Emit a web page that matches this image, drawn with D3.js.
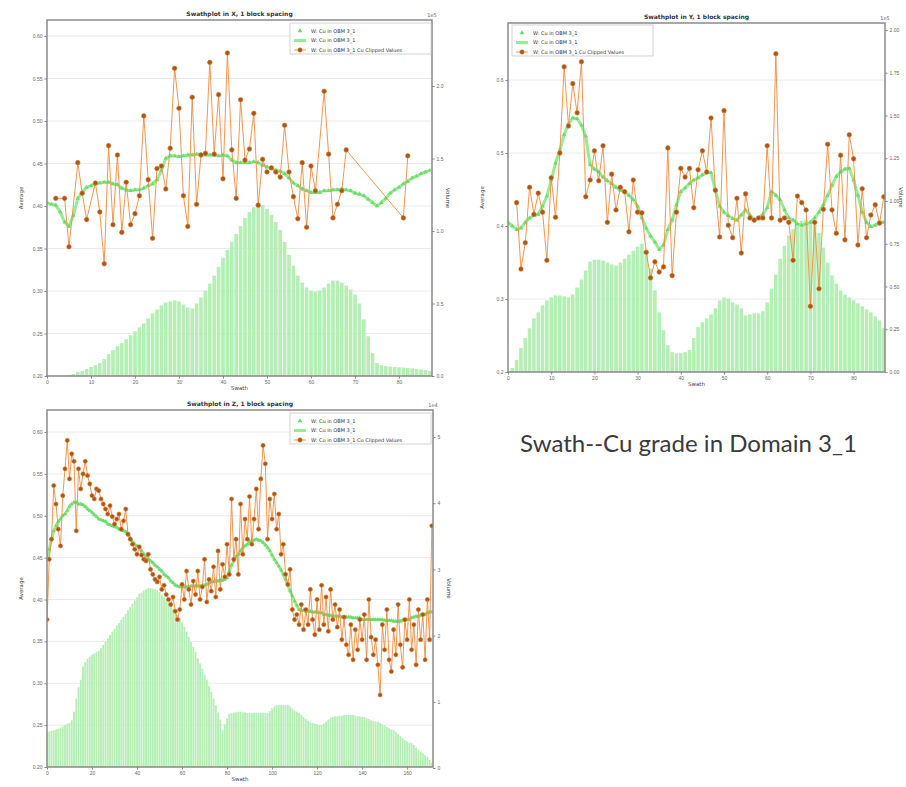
<!DOCTYPE html>
<html>
<head>
<meta charset="utf-8">
<script src="https://cdn.jsdelivr.net/npm/d3@7"></script>
<style>
  body { margin: 0; background: #fff; }
  svg { font-family: "DejaVu Sans", sans-serif; }
  .tick text { fill: #666; font-size: 5px; }
  .tick line { stroke: #888; }
  .domain { stroke: none; }
</style>
</head>
<body>
<svg id="chart" width="906" height="787"></svg>
<script>
// ---- Swath in X (top left) ----
const xGreen = [0.404,0.402,0.401,0.393,0.381,0.376,0.389,0.409,0.416,0.422,
  0.424,0.426,0.427,0.428,0.428,0.426,0.425,0.421,0.419,0.418,
  0.419,0.419,0.421,0.424,0.426,0.431,0.442,0.456,0.459,0.459,
  0.458,0.459,0.460,0.460,0.461,0.461,0.460,0.460,0.460,0.459,
  0.460,0.459,0.454,0.451,0.451,0.451,0.451,0.452,0.451,0.448,
  0.446,0.444,0.442,0.441,0.438,0.433,0.427,0.424,0.420,0.418,
  0.416,0.416,0.416,0.418,0.418,0.419,0.419,0.420,0.419,0.418,
  0.415,0.414,0.412,0.408,0.404,0.400,0.404,0.409,0.415,0.419,
  0.422,0.426,0.429,0.433,0.435,0.438,0.440,0.442];
const xClipped = [null,null,0.409,null,0.409,0.352,null,0.451,0.415,0.384,
  null,0.427,0.393,0.332,0.471,0.378,0.460,0.369,0.428,0.378,
  0.391,0.412,0.506,0.431,0.362,0.444,0.447,0.420,0.468,0.562,
  0.515,0.412,0.376,0.528,0.402,0.460,0.462,0.569,0.461,0.531,
  0.432,0.580,0.466,0.409,0.525,0.454,0.467,0.509,0.401,0.455,
  0.440,0.445,0.440,0.434,0.495,0.440,0.411,0.385,0.451,0.375,
  0.447,0.418,null,0.535,0.461,0.386,0.402,0.418,0.466,null,
  null,null,null,null,null,null,null,null,null,null,
  null,0.386,0.459,null,null,null,null,null];
const xVolume = [0,0,0,0,0.003,0.007,0.014,0.027,0.035,0.048,
  0.062,0.075,0.089,0.116,0.151,0.178,0.205,0.226,0.253,0.281,
  0.308,0.336,0.363,0.397,0.432,0.459,0.486,0.507,0.514,0.521,
  0.514,0.493,0.473,0.466,0.500,0.541,0.589,0.637,0.692,0.753,
  0.815,0.870,0.925,0.979,1.034,1.089,1.130,1.164,1.192,1.178,
  1.151,1.110,1.062,1.007,0.925,0.836,0.760,0.692,0.644,0.610,
  0.589,0.582,0.589,0.610,0.637,0.658,0.658,0.644,0.623,0.596,
  0.562,0.500,0.390,0.274,0.158,0.089,0.075,0.068,0.065,0.062,
  0.060,0.058,0.055,0.052,0.048,0.045,0.040,0.035];

// ---- Swath in Y (top right) ----
const yGreen = [0.405,0.400,0.395,0.397,0.405,0.411,0.414,0.416,0.427,0.441,
  0.463,0.486,0.504,0.525,0.540,0.548,0.547,0.538,0.523,0.484,
  0.478,0.474,0.467,0.462,0.458,0.453,0.449,0.447,0.442,0.436,
  0.427,0.411,0.397,0.386,0.378,0.368,0.374,0.395,0.408,0.429,
  0.447,0.452,0.458,0.463,0.466,0.470,0.473,0.473,0.449,0.427,
  0.419,0.414,0.410,0.408,0.415,0.422,0.415,0.408,0.411,0.416,
  0.425,0.447,0.442,0.436,0.422,0.411,0.408,0.403,0.401,0.403,
  0.405,0.411,0.419,0.429,0.442,0.456,0.468,0.474,0.478,0.479,
  0.463,0.442,0.419,0.405,0.399,0.401,0.405,0.405];
const yClipped = [null,null,0.432,0.341,0.377,0.453,0.416,0.445,0.419,0.353,
  0.466,0.412,0.500,0.618,0.537,0.595,0.555,0.625,0.440,0.463,
  0.503,0.462,0.510,0.405,0.471,0.422,0.453,0.447,0.392,0.463,
  0.419,0.418,0.364,0.329,0.351,0.337,0.344,0.507,0.332,0.419,
  0.479,0.467,0.479,0.425,0.477,0.503,0.474,0.548,0.449,0.385,
  0.558,0.401,0.384,0.438,0.363,0.444,0.411,0.408,0.411,0.411,
  0.510,0.411,0.636,0.408,0.411,0.405,0.353,0.441,0.432,0.422,
  0.290,0.405,0.314,0.423,0.512,0.422,0.390,0.497,0.381,0.525,
  0.492,0.374,0.451,0.384,0.415,0.429,0.404,0.440];
const yVolume = [0,0.023,0.070,0.140,0.198,0.256,0.314,0.349,0.390,0.419,
  0.436,0.448,0.448,0.442,0.436,0.453,0.494,0.541,0.593,0.645,
  0.657,0.657,0.651,0.640,0.628,0.622,0.640,0.663,0.686,0.709,
  0.733,0.750,0.709,0.605,0.477,0.349,0.244,0.157,0.116,0.110,
  0.110,0.116,0.128,0.198,0.262,0.291,0.314,0.337,0.372,0.419,
  0.436,0.430,0.407,0.395,0.372,0.331,0.337,0.343,0.343,0.355,
  0.407,0.488,0.570,0.663,0.738,0.797,0.837,0.872,0.884,0.890,
  0.878,0.860,0.814,0.727,0.640,0.564,0.517,0.477,0.453,0.436,
  0.419,0.401,0.384,0.366,0.349,0.326,0.302,0.256];

// ---- Swath in Z (bottom left) ----
const zGreen = [0.448,0.460,0.472,0.482,0.488,0.493,0.496,0.500,0.502,0.506,
  0.511,0.514,0.516,0.516,0.514,0.514,0.513,0.511,0.508,0.506,
  0.504,0.501,0.499,0.496,0.495,0.494,0.493,0.490,0.489,0.488,
  0.487,0.486,0.484,0.483,0.482,0.481,0.477,0.474,0.469,0.466,
  0.464,0.462,0.458,0.454,0.452,0.448,0.446,0.444,0.441,0.439,
  0.436,0.434,0.430,0.428,0.426,0.422,0.420,0.417,0.416,0.415,
  0.415,0.415,0.415,0.415,0.416,0.416,0.416,0.416,0.416,0.417,
  0.417,0.418,0.420,0.421,0.421,0.422,0.422,0.423,0.423,0.424,
  0.426,0.434,0.441,0.446,0.451,0.454,0.458,0.462,0.464,0.466,
  0.469,0.470,0.471,0.472,0.471,0.470,0.468,0.465,0.462,0.458,
  0.453,0.448,0.444,0.440,0.435,0.430,0.424,0.417,0.410,0.404,
  0.398,0.393,0.388,0.387,0.387,0.386,0.386,0.386,0.385,0.385,
  0.385,0.384,0.384,0.382,0.382,0.381,0.381,0.380,0.380,0.380,
  0.380,0.379,0.379,0.379,0.379,0.379,0.378,0.378,0.378,0.378,
  0.376,0.376,0.376,0.376,0.376,0.376,0.376,0.376,0.376,0.376,
  0.375,0.375,0.375,0.375,0.374,0.374,0.374,0.374,0.375,0.375,
  0.376,0.376,0.378,0.379,0.380,0.380,0.381,0.382,0.382,0.384,
  0.385,0.385];
const zClipped = [0.376,0.448,0.472,0.536,0.514,0.484,0.464,0.524,0.556,0.590,
  0.544,0.574,0.565,0.482,0.556,0.532,0.550,0.565,0.548,0.538,
  0.524,0.520,0.532,0.530,0.520,0.514,0.508,0.502,0.512,0.499,
  0.490,0.496,0.502,0.484,0.494,0.508,0.478,0.472,0.466,0.460,
  0.454,0.463,0.453,0.448,0.446,0.454,0.436,0.430,0.424,0.421,
  0.427,0.412,0.417,0.406,0.400,0.394,0.403,0.386,0.376,0.388,
  0.418,0.400,0.434,0.412,0.394,0.422,0.406,0.434,0.400,0.415,
  0.448,0.397,0.424,0.410,0.439,0.403,0.458,0.412,0.442,0.427,
  0.466,0.430,0.520,0.448,0.472,0.430,0.514,0.454,0.496,0.472,
  0.523,0.466,0.496,0.532,0.484,0.544,0.584,0.562,0.472,0.520,
  0.496,0.526,0.484,0.502,0.454,0.466,0.430,0.418,0.436,0.388,
  0.376,0.382,0.370,0.394,0.364,0.388,0.370,0.412,0.376,0.358,
  0.400,0.364,0.417,0.370,0.403,0.362,0.412,0.376,0.394,0.367,
  0.388,0.352,0.379,0.346,0.334,0.370,0.328,0.364,0.340,0.376,
  0.352,0.382,0.328,0.400,0.355,0.334,0.352,0.322,0.286,0.370,
  0.340,0.388,0.328,0.314,0.364,0.334,0.394,0.346,0.319,0.376,
  0.352,0.400,0.340,0.370,0.322,0.388,0.352,0.382,0.328,0.400,
  0.352,0.488];
const zVolume = [0.544,0.55,0.56,0.57,0.58,0.59,0.61,0.63,0.65,0.67,
  0.68,0.72,0.85,1.05,1.22,1.33,1.53,1.60,1.65,1.68,
  1.71,1.73,1.75,1.77,1.81,1.86,1.91,1.96,2.01,2.06,
  2.10,2.15,2.19,2.24,2.28,2.33,2.38,2.43,2.48,2.53,
  2.58,2.63,2.65,2.68,2.70,2.72,2.72,2.71,2.70,2.69,
  2.66,2.62,2.58,2.54,2.50,2.45,2.41,2.36,2.31,2.27,
  2.20,2.13,2.06,1.98,1.90,1.83,1.75,1.66,1.58,1.50,
  1.41,1.33,1.24,1.15,1.05,0.95,0.84,0.73,0.57,0.66,
  0.75,0.82,0.83,0.84,0.84,0.85,0.85,0.84,0.84,0.83,
  0.83,0.83,0.83,0.83,0.83,0.83,0.83,0.83,0.83,0.86,
  0.90,0.93,0.95,0.95,0.95,0.95,0.95,0.95,0.93,0.90,
  0.87,0.85,0.83,0.80,0.77,0.74,0.71,0.69,0.68,0.67,
  0.66,0.65,0.65,0.67,0.70,0.73,0.76,0.77,0.78,0.78,
  0.79,0.79,0.80,0.80,0.80,0.80,0.80,0.79,0.78,0.78,
  0.77,0.77,0.75,0.74,0.72,0.71,0.70,0.70,0.68,0.66,
  0.64,0.62,0.60,0.58,0.57,0.54,0.51,0.48,0.45,0.42,
  0.40,0.38,0.38,0.35,0.31,0.28,0.25,0.22,0.19,0.17,
  0.12,0.08];

const gradeTicks5 = [0.20,0.25,0.30,0.35,0.40,0.45,0.50,0.55,0.60];
const gradeTicks10 = [0.2,0.3,0.4,0.5,0.6];
const swathTicks10 = [0,10,20,30,40,50,60,70,80];
const swathTicks20 = [0,20,40,60,80,100,120,140,160];
const volTicksX = [0,0.5,1.0,1.5,2.0];
const volTicksY = [0,0.25,0.5,0.75,1.0,1.25,1.5,1.75,2.0];
const volTicksZ = [0,1,2,3,4,5];
const legendLabels = ["W: Cu in OBM 3_1", "W: Cu in OBM 3_1", "W: Cu in OBM 3_1  Cu Clipped Values"];

const svg = d3.select("#chart");
const lineGreen = "#94ec94", markGreen = "#62d862", barGreen = "#b5efb5";
const orange = "#ef8a3c", dotFill = "#a5561f", dotStroke = "#e07a28";

function drawSwath(o) {
  const g = svg.append("g");
  const x = d3.scaleLinear().domain([0, o.xMax]).range([o.left, o.right]);
  const y = d3.scaleLinear().domain([o.gradeTicks[0], o.gradeTicks[o.gradeTicks.length - 1]]).range(o.gradeRange);
  const yv = d3.scaleLinear().domain([0, o.volTicks[o.volTicks.length - 1]]).range(o.volRange);

  g.append("clipPath").attr("id", "clip-" + o.id).append("rect")
    .attr("x", o.left).attr("y", o.top)
    .attr("width", o.right - o.left).attr("height", o.bottom - o.top);

  // grid
  g.append("g").selectAll("line").data(o.gradeTicks).join("line")
    .attr("x1", o.left).attr("x2", o.right)
    .attr("y1", d => y(d)).attr("y2", d => y(d))
    .attr("stroke", "#e4e4e4").attr("stroke-width", 0.8);

  const plot = g.append("g").attr("clip-path", `url(#clip-${o.id})`);
  const step = x(1) - x(0);

  // volume bars
  plot.append("g").selectAll("rect").data(o.volume).join("rect")
    .attr("x", (d, i) => x(i) - step * 0.42)
    .attr("width", step * 0.84)
    .attr("y", d => yv(d))
    .attr("height", d => yv(0) - yv(d))
    .attr("fill", barGreen);

  // model average (green)
  plot.append("path").datum(o.green)
    .attr("d", d3.line().x((d, i) => x(i)).y(d => y(d)))
    .attr("fill", "none").attr("stroke", lineGreen)
    .attr("stroke-width", 3).attr("stroke-linejoin", "round");
  plot.append("g").selectAll("path").data(o.green).join("path")
    .attr("transform", (d, i) => `translate(${x(i)},${y(d)})`)
    .attr("d", d3.symbol(d3.symbolTriangle, o.markSize))
    .attr("fill", markGreen).attr("opacity", 0.8);

  // composites, clipped values (orange)
  const pts = o.clipped.map((v, i) => [i, v]).filter(d => d[1] !== null);
  plot.append("path").datum(pts)
    .attr("d", d3.line().x(d => x(d[0])).y(d => y(d[1])))
    .attr("fill", "none").attr("stroke", orange).attr("stroke-width", 0.9);
  plot.append("g").selectAll("circle").data(pts).join("circle")
    .attr("cx", d => x(d[0])).attr("cy", d => y(d[1]))
    .attr("r", o.dotR).attr("fill", dotFill)
    .attr("stroke", dotStroke).attr("stroke-width", 0.6);

  // frame
  g.append("rect").attr("x", o.left).attr("y", o.top)
    .attr("width", o.right - o.left).attr("height", o.bottom - o.top)
    .attr("fill", "none").attr("stroke", "#8a8a8a").attr("stroke-width", 1.5);

  // axes
  g.append("g").attr("transform", `translate(0,${o.bottom})`)
    .call(d3.axisBottom(x).tickValues(o.swathTicks).tickSize(2.5).tickPadding(2).tickFormat(d3.format("d")));
  g.append("g").attr("transform", `translate(${o.left},0)`)
    .call(d3.axisLeft(y).tickValues(o.gradeTicks).tickSize(2.5).tickPadding(2).tickFormat(d3.format(o.gradeFmt)));
  g.append("g").attr("transform", `translate(${o.right},0)`)
    .call(d3.axisRight(yv).tickValues(o.volTicks).tickSize(2.5).tickPadding(2).tickFormat(d3.format(o.volFmt)));

  // texts
  g.append("text").attr("x", (o.left + o.right) / 2).attr("y", o.top - 4)
    .attr("text-anchor", "middle").attr("font-size", 6).attr("font-weight", "bold")
    .attr("fill", "#333").text(o.title);
  g.append("text").attr("x", (o.left + o.right) / 2).attr("y", o.bottom + 14)
    .attr("text-anchor", "middle").attr("font-size", 5.5).attr("fill", "#444").text("Swath");
  g.append("text").attr("transform", `translate(${o.left - 24},${(o.top + o.bottom) / 2}) rotate(-90)`)
    .attr("text-anchor", "middle").attr("font-size", 5.5).attr("fill", "#444").text("Average");
  g.append("text").attr("transform", `translate(${o.right + 14},${(o.top + o.bottom) / 2}) rotate(90)`)
    .attr("text-anchor", "middle").attr("font-size", 5.5).attr("fill", "#444").text("Volume");
  g.append("text").attr("x", o.right).attr("y", o.top - 3)
    .attr("text-anchor", "middle").attr("font-size", 5).attr("fill", "#666").text(o.volExp);

  // legend
  const lg = g.append("g").attr("transform", `translate(${o.legend[0]},${o.legend[1]})`);
  lg.append("rect").attr("width", 141).attr("height", 31)
    .attr("fill", "#fff").attr("fill-opacity", 0.85)
    .attr("stroke", "#c8c8c8").attr("stroke-width", 0.8);
  legendLabels.forEach((label, i) => {
    const ly = 8 + i * 9.5;
    const row = lg.append("g").attr("transform", `translate(0,${ly})`);
    if (i === 0) {
      row.append("path").attr("transform", "translate(10,0)")
        .attr("d", d3.symbol(d3.symbolTriangle, 9)).attr("fill", markGreen);
    } else if (i === 1) {
      row.append("line").attr("x1", 4).attr("x2", 16)
        .attr("stroke", lineGreen).attr("stroke-width", 3);
    } else {
      row.append("line").attr("x1", 4).attr("x2", 16)
        .attr("stroke", orange).attr("stroke-width", 0.9);
      row.append("circle").attr("cx", 10).attr("r", 2.2)
        .attr("fill", dotFill).attr("stroke", dotStroke).attr("stroke-width", 0.6);
    }
    row.append("text").attr("x", 21).attr("y", 1.8)
      .attr("font-size", 5).attr("fill", "#333").text(label);
  });
}

drawSwath({
  id: "x", title: "Swathplot in X, 1 block spacing",
  left: 47, right: 432, top: 20, bottom: 376, xMax: 87.5,
  swathTicks: swathTicks10, gradeTicks: gradeTicks5, gradeRange: [376, 36], gradeFmt: ".2f",
  volTicks: volTicksX, volRange: [376, 86], volFmt: ".1f", volExp: "1e5",
  green: xGreen, clipped: xClipped, volume: xVolume,
  markSize: 9, dotR: 2.3, legend: [290, 23]
});

drawSwath({
  id: "y", title: "Swathplot in Y, 1 block spacing",
  left: 508, right: 885, top: 23, bottom: 372, xMax: 87.27,
  swathTicks: swathTicks10, gradeTicks: gradeTicks10, gradeRange: [372, 80], gradeFmt: ".1f",
  volTicks: volTicksY, volRange: [372, 30], volFmt: ".2f", volExp: "1e5",
  green: yGreen, clipped: yClipped, volume: yVolume,
  markSize: 9, dotR: 2.3, legend: [512, 25]
});

drawSwath({
  id: "z", title: "Swathplot in Z, 1 block spacing",
  left: 47, right: 433, top: 410, bottom: 767, xMax: 171.5,
  swathTicks: swathTicks20, gradeTicks: gradeTicks5, gradeRange: [767, 432], gradeFmt: ".2f",
  volTicks: volTicksZ, volRange: [768, 437], volFmt: "d", volExp: "1e4",
  green: zGreen, clipped: zClipped, volume: zVolume,
  markSize: 7, dotR: 2.1, legend: [290, 413]
});

// slide caption
svg.append("text").attr("x", 520).attr("y", 452)
  .attr("font-family", "Lato, 'Open Sans', sans-serif").attr("font-size", 23.5)
  .attr("textLength", 337).attr("lengthAdjust", "spacingAndGlyphs")
  .attr("fill", "#3a3a3a").text("Swath--Cu grade in Domain 3_1");
</script>
</body>
</html>
